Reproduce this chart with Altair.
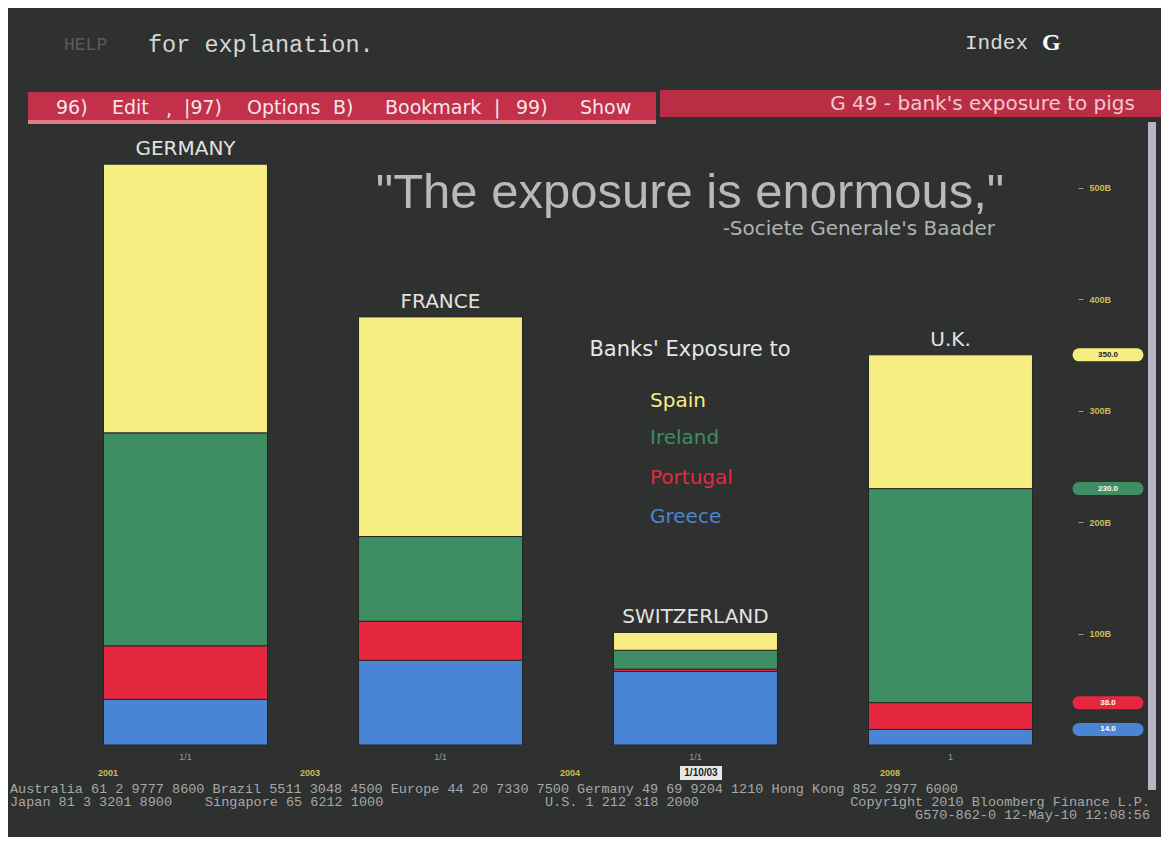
import altair as alt
import pandas as pd

# ---- data (in billions) ----
countries = ["GERMANY", "FRANCE", "SWITZERLAND", "U.K."]
series_order = ["Greece", "Portugal", "Ireland", "Spain"]  # bottom -> top
greece = [41, 76, 66, 14]
portugal = [48, 35, 2, 24]
ireland = [191, 76, 17, 192]
spain = [241, 197, 16, 120]
y_ticks = [100, 200, 300, 400, 500]
date_ticks = ["1/1", "1/1", "1/1", "1"]

legend_names = ["Spain", "Ireland", "Portugal", "Greece"]
legend_colors = ["#f7ee82", "#3e8d63", "#e5283f", "#4a84d4"]

values = {"Greece": greece, "Portugal": portugal, "Ireland": ireland, "Spain": spain}
rows = []
for i, c in enumerate(countries):
    for k, s in enumerate(series_order):
        rows.append({"country": c, "series": s, "ord": k, "value": values[s][i]})
df = pd.DataFrame(rows)

totals = pd.DataFrame({"country": countries,
                       "total": [g + p + r + s for g, p, r, s in zip(greece, portugal, ireland, spain)],
                       "tick": date_ticks})

# last-value tags (cumulative stack of the last bar)
cum = 0
tag_rows = []
for s in series_order:
    cum += values[s][-1]
    tag_rows.append({"series": s, "cum": cum})
tags = pd.DataFrame(tag_rows)

W, H = 1020, 602
OX, OY = 58, 143  # page position of plot origin

color_scale = alt.Scale(domain=legend_names, range=legend_colors)
x_enc = alt.X("country:N", sort=countries, axis=None,
              scale=alt.Scale(paddingInner=0.357, paddingOuter=0.1785))
y_scale = alt.Scale(domain=[0, 540], nice=False, zero=True)


def one():
    return alt.Chart(alt.Data(values=[{}]))


def label(text, x, y, size, color, align="left", font="Liberation Sans",
          weight="normal", baseline="middle"):
    return one().mark_text(text=text, align=align, baseline=baseline, fontSize=size,
                           color=color, font=font, fontWeight=weight).encode(
        x=alt.value(x - OX), y=alt.value(y - OY))


def box(x1, x2, y1, y2, color):
    return one().mark_rect(color=color).encode(
        x=alt.value(x1 - OX), x2=alt.value(x2 - OX),
        y=alt.value(y1 - OY), y2=alt.value(y2 - OY))


bars = alt.Chart(df).mark_bar(stroke="#262626", strokeWidth=1).encode(
    x=x_enc,
    y=alt.Y("value:Q", stack="zero", scale=y_scale,
            axis=alt.Axis(orient="right", values=y_ticks, labelExpr="datum.value + 'B'",
                          labelColor="#cdbd52", labelFontSize=9, labelFontWeight="bold",
                          labelFont="Liberation Sans",
                          tickColor="#9a9a9a", tickSize=5, domain=False, grid=False,
                          labelPadding=6, title=None)),
    color=alt.Color("series:N", scale=color_scale, legend=None),
    order=alt.Order("ord:Q", sort="ascending"),
)

country_labels = alt.Chart(totals).mark_text(
    baseline="bottom", dy=-5, fontSize=20, color="#e2e2e2", font="DejaVu Sans"
).encode(x=x_enc, y=alt.Y("total:Q", scale=y_scale), text="country:N")

tick_labels = alt.Chart(totals).mark_text(
    baseline="middle", fontSize=9, color="#9a9a9a", font="Liberation Sans"
).encode(x=x_enc, y=alt.value(757 - OY), text="tick:N")

tag_pills = alt.Chart(tags).mark_rule(strokeWidth=13, strokeCap="round").encode(
    x=alt.value(W + 1), x2=alt.value(W + 59),
    y=alt.Y("cum:Q", scale=y_scale),
    color=alt.Color("series:N", scale=color_scale, legend=None))
tag_text = alt.Chart(tags).mark_text(fontSize=8, font="Liberation Sans", fontWeight="bold").encode(
    x=alt.value(W + 30), y=alt.Y("cum:Q", scale=y_scale),
    text=alt.Text("cum:Q", format=".1f"),
    color=alt.condition(alt.datum.series == "Spain", alt.value("#222222"), alt.value("#ffffff")))

MENU = "#f4e6ea"
MF = "DejaVu Sans"
layers = [
    # menu bars
    box(28, 656, 92, 123, "#c2304a"),
    box(28, 656, 120, 124, "#e07a8a"),
    box(660, 1161, 90, 117, "#b92d45"),
    # scrollbar
    box(1148, 1156, 122, 790, "#b9b5c6"),
    bars, country_labels, tick_labels, tag_pills, tag_text,
    # header
    label("HELP", 64, 45, 18, "#5c5c5c", font="Liberation Mono"),
    label("for explanation.", 148, 45, 23.5, "#d6d6d6", font="Liberation Mono"),
    label("Index", 965, 43, 21, "#dcdcdc", font="Liberation Mono"),
    label("G", 1042, 43, 24, "#ffffff", font="Liberation Serif", weight="bold"),
    label("96)", 56, 108, 19, MENU, font=MF),
    label("Edit", 112, 108, 19, MENU, font=MF),
    label(",", 166, 110, 19, MENU, font=MF),
    label("|97)", 184, 108, 19, MENU, font=MF),
    label("Options", 247, 108, 19, MENU, font=MF),
    label("B)", 333, 108, 19, MENU, font=MF),
    label("Bookmark", 385, 108, 19, MENU, font=MF),
    label("|", 494, 108, 19, MENU, font=MF),
    label("99)", 516, 108, 19, MENU, font=MF),
    label("Show", 580, 108, 19, MENU, font=MF),
    label("G 49 - bank's exposure to pigs", 1135, 104, 20, "#f0c8d0", align="right",
          font="DejaVu Sans"),
    # quote
    label("\"The exposure is enormous,\"", 690, 193, 49, "#b9b9b9", align="center"),
    label("-Societe Generale's Baader", 995, 229, 20, "#b3b3b3", align="right",
          font="DejaVu Sans"),
    # legend block
    label("Banks' Exposure to", 690, 350, 21, "#e6e6e6", align="center", font="DejaVu Sans"),
]
for name, col, yy in zip(legend_names, legend_colors, [401, 438, 478, 517]):
    layers.append(label(name, 650, yy, 20, col, font="DejaVu Sans"))

# x-axis date row
for txt, xx in [("2001", 98), ("2003", 300), ("2004", 560), ("2008", 880)]:
    layers.append(label(txt, xx, 773, 9, "#cdbd52", weight="bold"))
layers.append(box(680, 722, 766, 780, "#e8e8e8"))
layers.append(label("1/10/03", 701, 773, 10, "#222222", align="center", weight="bold"))

# footer
FOOT = "#a8a8a8"
MONO = "Liberation Mono"
FS = 13.5
layers += [
    label("Australia 61 2 9777 8600 Brazil 5511 3048 4500 Europe 44 20 7330 7500 "
          "Germany 49 69 9204 1210 Hong Kong 852 2977 6000", 10, 789, FS, FOOT, font=MONO),
    label("Japan 81 3 3201 8900", 10, 802, FS, FOOT, font=MONO),
    label("Singapore 65 6212 1000", 205, 802, FS, FOOT, font=MONO),
    label("U.S. 1 212 318 2000", 545, 802, FS, FOOT, font=MONO),
    label("Copyright 2010 Bloomberg Finance L.P.", 1150, 802, FS, FOOT, align="right", font=MONO),
    label("G570-862-0 12-May-10 12:08:56", 1150, 815, FS, FOOT, align="right", font=MONO),
]

chart = alt.layer(*layers).properties(
    width=W, height=H,
    padding={"left": 50, "top": 135, "right": 83, "bottom": 92},
    autosize=alt.AutoSizeParams(type="none"),
    background="#2f3030",
).configure_view(stroke=None)

chart.save("out.html", embed_options={"renderer": "svg", "actions": False})
